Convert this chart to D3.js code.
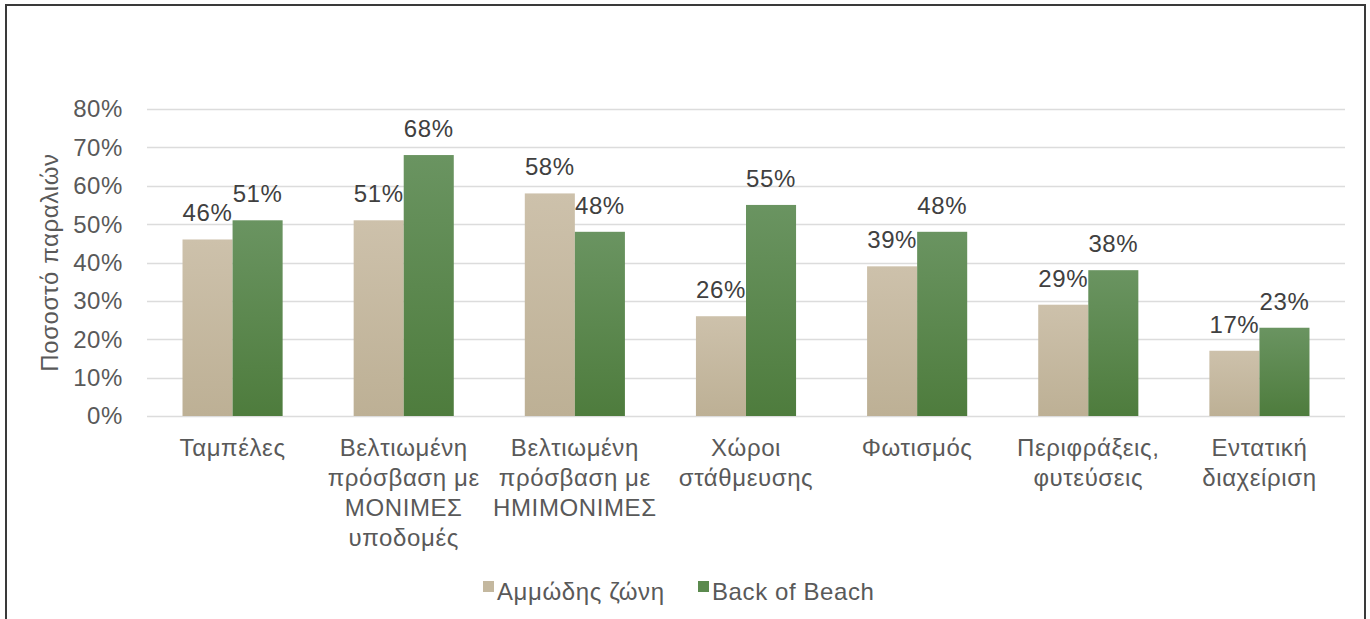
<!DOCTYPE html>
<html>
<head>
<meta charset="utf-8">
<script src="https://cdn.jsdelivr.net/npm/d3@7"></script>
<style>
  body { margin: 0; background: #fff; }
  svg { display: block; font-family: "Liberation Sans", Arial, sans-serif; }
  text { letter-spacing: 0.6px; }
</style>
</head>
<body>
<svg id="chart" width="1370" height="619"></svg>
<script>
const categories = [
  ["Ταμπέλες"],
  ["Βελτιωμένη", "πρόσβαση με", "ΜΟΝΙΜΕΣ", "υποδομές"],
  ["Βελτιωμένη", "πρόσβαση με", "ΗΜΙΜΟΝΙΜΕΣ"],
  ["Χώροι", "στάθμευσης"],
  ["Φωτισμός"],
  ["Περιφράξεις,", "φυτεύσεις"],
  ["Εντατική", "διαχείριση"]
];
const seriesNames = ["Αμμώδης ζώνη", "Back of Beach"];
const sandyZone = [46, 51, 58, 26, 39, 29, 17];
const backOfBeach = [51, 68, 48, 55, 48, 38, 23];
const yTicks = [0, 10, 20, 30, 40, 50, 60, 70, 80];
const yTitle = "Ποσοστό παραλιών";

const svg = d3.select("#chart");
const W = 1370, H = 619;
const margin = {left: 147, right: 25, top: 109, bottom: 203};
const textColor = "#595959";
const fontSize = 24;

// frame
svg.append("path")
  .attr("d", `M6,${H+2} L6,5 L1365,5 L1365,${H+2}`)
  .attr("fill", "none").attr("stroke", "#3a3a3a").attr("stroke-width", 2);

const defs = svg.append("defs");
const g1 = defs.append("linearGradient").attr("id", "gTan").attr("x1", 0).attr("x2", 0).attr("y1", 0).attr("y2", 1);
g1.append("stop").attr("offset", "0%").attr("stop-color", "#cdc1ab");
g1.append("stop").attr("offset", "100%").attr("stop-color", "#bdb095");
const g2 = defs.append("linearGradient").attr("id", "gGreen").attr("x1", 0).attr("x2", 0).attr("y1", 0).attr("y2", 1);
g2.append("stop").attr("offset", "0%").attr("stop-color", "#6a9461");
g2.append("stop").attr("offset", "100%").attr("stop-color", "#4e7c3d");
const fills = ["url(#gTan)", "url(#gGreen)"];
const legendColors = ["#c4b89f", "#5b8a4e"];

const x0 = d3.scaleBand()
  .domain(d3.range(categories.length))
  .range([margin.left, W - margin.right])
  .paddingInner(0.415).paddingOuter(0.2075);
const x1 = d3.scaleBand().domain([0, 1]).range([0, x0.bandwidth()]);
const y = d3.scaleLinear().domain([0, 80]).range([416, 109]);

// gridlines
svg.append("g").selectAll("line").data(yTicks).join("line")
  .attr("x1", margin.left).attr("x2", W - margin.right)
  .attr("y1", d => Math.round(y(d)) + 0.5).attr("y2", d => Math.round(y(d)) + 0.5)
  .attr("stroke", "#dcdcdc").attr("stroke-width", 1.5);

// y tick labels
svg.append("g").selectAll("text").data(yTicks).join("text")
  .attr("x", 123).attr("y", d => y(d)).attr("dy", "0.35em")
  .attr("text-anchor", "end").attr("fill", textColor).attr("font-size", fontSize)
  .text(d => d + "%");

// y title
svg.append("text")
  .attr("transform", `translate(58,${(y(0) + y(80)) / 2}) rotate(-90)`)
  .attr("text-anchor", "middle").attr("fill", textColor).attr("font-size", fontSize)
  .text(yTitle);

const series = [sandyZone, backOfBeach];
series.forEach((vals, s) => {
  const g = svg.append("g");
  g.selectAll("rect").data(vals).join("rect")
    .attr("x", (d, i) => x0(i) + x1(s))
    .attr("width", x1.bandwidth())
    .attr("y", d => y(d))
    .attr("height", d => y(0) - y(d))
    .attr("fill", fills[s]);
});
series.forEach((vals, s) => {
  svg.append("g").selectAll("text").data(vals).join("text")
    .attr("x", (d, i) => x0(i) + x1(s) + x1.bandwidth() / 2)
    .attr("y", d => y(d) - 18)
    .attr("text-anchor", "middle").attr("fill", "#404040").attr("font-size", fontSize)
    .text(d => d + "%");
});

// category labels
const catG = svg.append("g");
categories.forEach((lines, i) => {
  const t = catG.append("text")
    .attr("x", x0(i) + x0.bandwidth() / 2)
    .attr("y", 456)
    .attr("text-anchor", "middle").attr("fill", textColor).attr("font-size", fontSize);
  lines.forEach((ln, k) => {
    t.append("tspan").attr("x", x0(i) + x0.bandwidth() / 2).attr("dy", k === 0 ? 0 : 30).text(ln);
  });
});

// legend
const legend = svg.append("g");
const legX = [483, 698];
seriesNames.forEach((name, s) => {
  legend.append("rect").attr("x", legX[s]).attr("y", 581).attr("width", 11).attr("height", 11)
    .attr("fill", legendColors[s]);
  legend.append("text").attr("x", legX[s] + 14).attr("y", 592).attr("dy", "0.35em")
    .attr("fill", textColor).attr("font-size", fontSize).text(name);
});
</script>
</body>
</html>
